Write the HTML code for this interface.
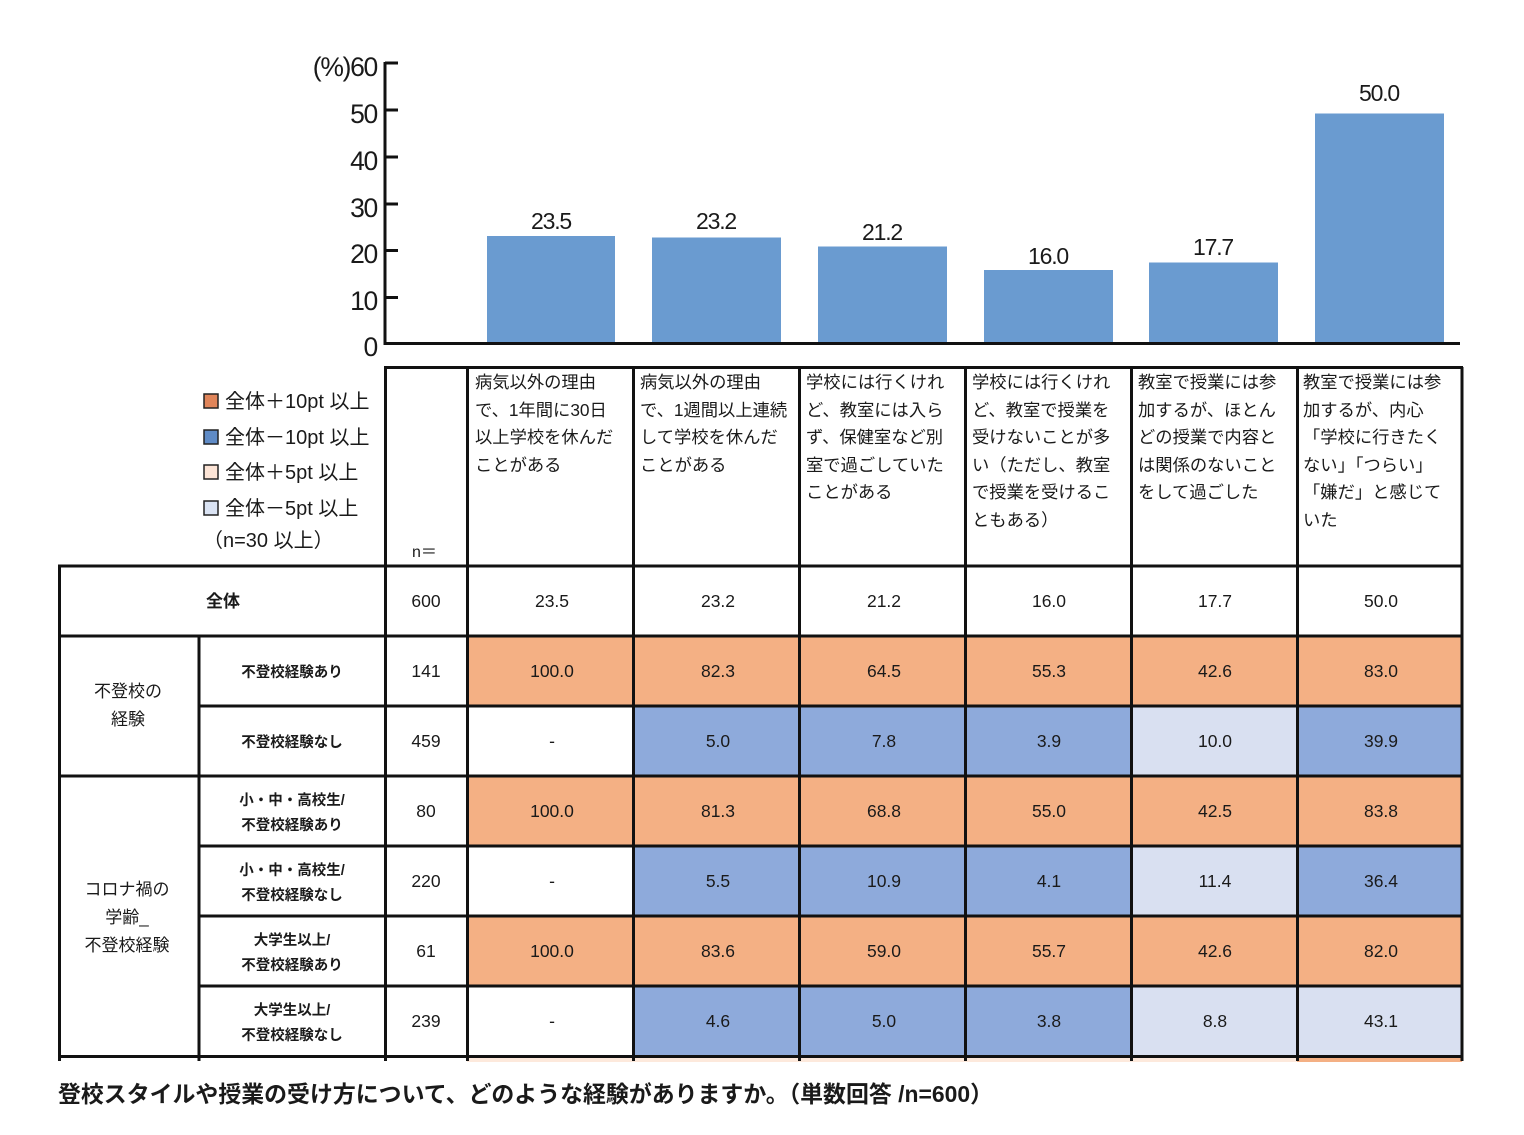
<!DOCTYPE html>
<html><head><meta charset="utf-8">
<style>
html,body{margin:0;padding:0;background:#fff;}
svg{display:block;}
text{font-family:"Liberation Sans","Noto Sans CJK JP",sans-serif;fill:#1a1a1a;}
</style></head>
<body>
<svg width="1524" height="1135" viewBox="0 0 1524 1135" xmlns="http://www.w3.org/2000/svg">
<!-- Bars -->
<g fill="#6a9bd0">
<rect x="487" y="236" width="128" height="107"/>
<rect x="652" y="237.5" width="129" height="105.5"/>
<rect x="818" y="246.5" width="129" height="96.5"/>
<rect x="984" y="270" width="129" height="73"/>
<rect x="1149" y="262.5" width="129" height="80.5"/>
<rect x="1315" y="113.5" width="129" height="229.5"/>
</g>
<g font-size="23" text-anchor="middle" letter-spacing="-1.2">
<text x="551" y="229">23.5</text>
<text x="716" y="229">23.2</text>
<text x="882" y="240">21.2</text>
<text x="1048" y="264">16.0</text>
<text x="1213" y="255">17.7</text>
<text x="1379" y="101">50.0</text>
</g>
<!-- Axis -->
<g stroke="#111" stroke-width="3" fill="none">
<line x1="385" y1="62" x2="385" y2="345"/>
<line x1="384" y1="343.5" x2="1460" y2="343.5"/>
<line x1="385" y1="63" x2="398" y2="63"/>
<line x1="385" y1="110" x2="398" y2="110"/>
<line x1="385" y1="157" x2="398" y2="157"/>
<line x1="385" y1="204" x2="398" y2="204"/>
<line x1="385" y1="250.5" x2="398" y2="250.5"/>
<line x1="385" y1="297.5" x2="398" y2="297.5"/>
</g>
<g font-size="26.5" text-anchor="end" letter-spacing="-1.3">
<text x="377" y="76">(%)60</text>
<text x="377" y="123">50</text>
<text x="377" y="170">40</text>
<text x="377" y="217">30</text>
<text x="377" y="263">20</text>
<text x="377" y="310">10</text>
<text x="377" y="356">0</text>
</g>

<!-- Legend -->
<g stroke="#222" stroke-width="1.5">
<rect x="204" y="394" width="14" height="14" fill="#e0855a"/>
<rect x="204" y="430" width="14" height="14" fill="#5f8bc6"/>
<rect x="204" y="465" width="14" height="14" fill="#fce4d6"/>
<rect x="204" y="501" width="14" height="14" fill="#dae3f3"/>
</g>
<g font-size="20">
<text x="225" y="408">全体＋10pt 以上</text>
<text x="225" y="444">全体－10pt 以上</text>
<text x="225" y="479">全体＋5pt 以上</text>
<text x="225" y="515">全体－5pt 以上</text>
<text x="203" y="547">（n=30 以上）</text>
</g>
<text x="412" y="557" font-size="16" fill="#444">n＝</text>

<!-- Header texts -->
<g font-size="17.3">
<text x="475" y="388">病気以外の理由</text>
<text x="475" y="416">で、1年間に30日</text>
<text x="475" y="443">以上学校を休んだ</text>
<text x="475" y="471">ことがある</text>

<text x="640" y="388">病気以外の理由</text>
<text x="640" y="416">で、1週間以上連続</text>
<text x="640" y="443">して学校を休んだ</text>
<text x="640" y="471">ことがある</text>

<text x="806" y="388">学校には行くけれ</text>
<text x="806" y="416">ど、教室には入ら</text>
<text x="806" y="443">ず、保健室など別</text>
<text x="806" y="471">室で過ごしていた</text>
<text x="806" y="498">ことがある</text>

<text x="972" y="388">学校には行くけれ</text>
<text x="972" y="416">ど、教室で授業を</text>
<text x="972" y="443">受けないことが多</text>
<text x="972" y="471">い（ただし、教室</text>
<text x="972" y="498">で授業を受けるこ</text>
<text x="972" y="526">ともある）</text>

<text x="1138" y="388">教室で授業には参</text>
<text x="1138" y="416">加するが、ほとん</text>
<text x="1138" y="443">どの授業で内容と</text>
<text x="1138" y="471">は関係のないこと</text>
<text x="1138" y="498">をして過ごした</text>

<text x="1303" y="388">教室で授業には参</text>
<text x="1303" y="416">加するが、内心</text>
<text x="1303" y="443">「学校に行きたく</text>
<text x="1303" y="471">ない」「つらい」</text>
<text x="1303" y="498">「嫌だ」と感じて</text>
<text x="1303" y="526">いた</text>
</g>

<!-- Cell fills -->
<g>
<rect x="467" y="636" width="995" height="70" fill="#f4b084"/>
<rect x="633" y="706" width="498" height="70" fill="#8eaadb"/>
<rect x="1131" y="706" width="166" height="70" fill="#d9e0f1"/>
<rect x="1297" y="706" width="165" height="70" fill="#8eaadb"/>
<rect x="467" y="776" width="995" height="70" fill="#f4b084"/>
<rect x="633" y="846" width="498" height="70" fill="#8eaadb"/>
<rect x="1131" y="846" width="166" height="70" fill="#d9e0f1"/>
<rect x="1297" y="846" width="165" height="70" fill="#8eaadb"/>
<rect x="467" y="916" width="995" height="70" fill="#f4b084"/>
<rect x="633" y="986" width="498" height="70" fill="#8eaadb"/>
<rect x="1131" y="986" width="331" height="70" fill="#d9e0f1"/>
<rect x="467" y="1057" width="830" height="5" fill="#fde9dc"/>
<rect x="1297" y="1057" width="165" height="5" fill="#f4b084"/>
</g>

<!-- Grid lines -->
<g stroke="#111" stroke-width="3" fill="none">
<line x1="384" y1="367.5" x2="1463" y2="367.5"/>
<line x1="58" y1="566" x2="1463" y2="566"/>
<line x1="58" y1="636" x2="1463" y2="636"/>
<line x1="199" y1="706" x2="1463" y2="706"/>
<line x1="58" y1="776" x2="1463" y2="776"/>
<line x1="199" y1="846" x2="1463" y2="846"/>
<line x1="199" y1="916" x2="1463" y2="916"/>
<line x1="199" y1="986" x2="1463" y2="986"/>
<line x1="58" y1="1056.5" x2="1463" y2="1056.5"/>

<line x1="59.5" y1="566" x2="59.5" y2="1061"/>
<line x1="199" y1="636" x2="199" y2="1061"/>
<line x1="385.5" y1="367" x2="385.5" y2="1061"/>
<line x1="467.5" y1="367" x2="467.5" y2="1061"/>
<line x1="633.5" y1="367" x2="633.5" y2="1061"/>
<line x1="799.5" y1="367" x2="799.5" y2="1061"/>
<line x1="965.5" y1="367" x2="965.5" y2="1061"/>
<line x1="1131.5" y1="367" x2="1131.5" y2="1061"/>
<line x1="1297.5" y1="367" x2="1297.5" y2="1061"/>
<line x1="1462" y1="367" x2="1462" y2="1061"/>
</g>

<!-- Row labels -->
<text x="223" y="607" font-size="17" font-weight="bold" text-anchor="middle">全体</text>
<g font-size="17" text-anchor="middle">
<text x="128" y="697">不登校の</text>
<text x="128" y="725">経験</text>
<text x="127" y="895">コロナ禍の</text>
<text x="127" y="923">学齢_</text>
<text x="127" y="951">不登校経験</text>
</g>
<g font-size="14.5" font-weight="bold" text-anchor="middle">
<text x="292" y="677">不登校経験あり</text>
<text x="292" y="747">不登校経験なし</text>
<text x="292" y="805">小・中・高校生/</text>
<text x="292" y="830">不登校経験あり</text>
<text x="292" y="875">小・中・高校生/</text>
<text x="292" y="900">不登校経験なし</text>
<text x="292" y="945">大学生以上/</text>
<text x="292" y="970">不登校経験あり</text>
<text x="292" y="1015">大学生以上/</text>
<text x="292" y="1040">不登校経験なし</text>
</g>

<!-- Values -->
<g font-size="17.5" text-anchor="middle">
<text x="426" y="607">600</text>
<text x="552" y="607">23.5</text><text x="718" y="607">23.2</text><text x="884" y="607">21.2</text><text x="1049" y="607">16.0</text><text x="1215" y="607">17.7</text><text x="1381" y="607">50.0</text>

<text x="426" y="677">141</text>
<text x="552" y="677">100.0</text><text x="718" y="677">82.3</text><text x="884" y="677">64.5</text><text x="1049" y="677">55.3</text><text x="1215" y="677">42.6</text><text x="1381" y="677">83.0</text>

<text x="426" y="747">459</text>
<text x="552" y="747">-</text><text x="718" y="747">5.0</text><text x="884" y="747">7.8</text><text x="1049" y="747">3.9</text><text x="1215" y="747">10.0</text><text x="1381" y="747">39.9</text>

<text x="426" y="817">80</text>
<text x="552" y="817">100.0</text><text x="718" y="817">81.3</text><text x="884" y="817">68.8</text><text x="1049" y="817">55.0</text><text x="1215" y="817">42.5</text><text x="1381" y="817">83.8</text>

<text x="426" y="887">220</text>
<text x="552" y="887">-</text><text x="718" y="887">5.5</text><text x="884" y="887">10.9</text><text x="1049" y="887">4.1</text><text x="1215" y="887">11.4</text><text x="1381" y="887">36.4</text>

<text x="426" y="957">61</text>
<text x="552" y="957">100.0</text><text x="718" y="957">83.6</text><text x="884" y="957">59.0</text><text x="1049" y="957">55.7</text><text x="1215" y="957">42.6</text><text x="1381" y="957">82.0</text>

<text x="426" y="1027">239</text>
<text x="552" y="1027">-</text><text x="718" y="1027">4.6</text><text x="884" y="1027">5.0</text><text x="1049" y="1027">3.8</text><text x="1215" y="1027">8.8</text><text x="1381" y="1027">43.1</text>
</g>

<!-- Caption -->
<text x="58" y="1102" font-size="23" font-weight="bold" textLength="935" lengthAdjust="spacingAndGlyphs">登校スタイルや授業の受け方について、どのような経験がありますか。（単数回答 /n=600）</text>
</svg>
</body></html>
